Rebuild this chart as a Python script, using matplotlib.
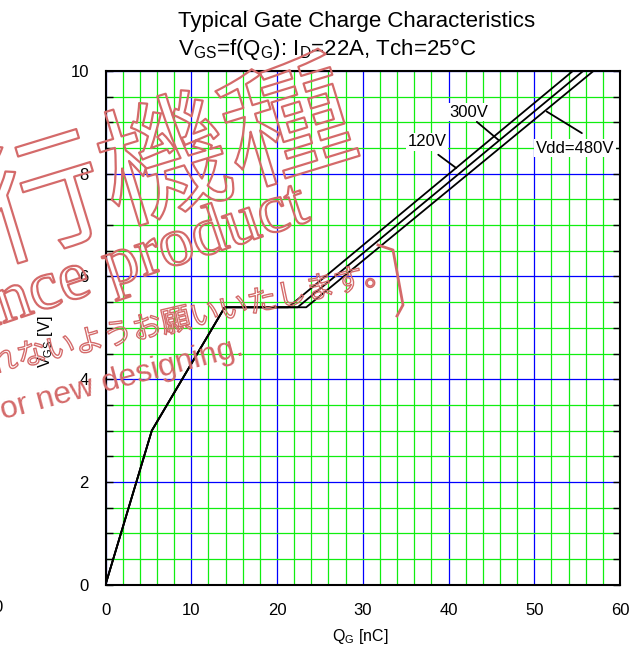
import matplotlib
matplotlib.use("Agg")
import matplotlib.pyplot as plt
import matplotlib.patheffects as pe
from matplotlib.lines import Line2D
import numpy as np

plt.rcParams['font.family'] = ['Liberation Sans', 'DejaVu Sans']

# gate charge curve
qg_rise = [0, 5.4, 13.9]          # nC
vgs_rise = [0, 3.0, 5.4]          # V
vdd_labels = ["120V", "300V", "Vdd=480V"]
qg_plateau_end = [21.3, 22.4, 23.4]
qg_at_top = [54.5, 55.7, 56.9]
v_plateau = 5.4
v_top = 10

x_ticks = [0, 10, 20, 30, 40, 50, 60]
y_ticks = [0, 2, 4, 6, 8, 10]

fig = plt.figure(figsize=(6.43, 6.53), dpi=100)
ax = fig.add_axes([0.1641, 0.1046, 0.8002, 0.7867])
ax.set_xlim(0, 60)
ax.set_ylim(0, 10)
ax.set_xticks(x_ticks)
ax.set_yticks(y_ticks)
ax.set_xticks(np.arange(0, 61, 2), minor=True)
ax.set_yticks(np.arange(0, 10.01, 0.5), minor=True)
ax.grid(which='minor', color='#10ee10', lw=0.9)
ax.grid(which='major', color='#0000ff', lw=0.9)
ax.set_axisbelow(True)
ax.tick_params(axis='x', which='both', length=0, pad=13, labelsize=12)
ax.tick_params(axis='y', which='both', direction='in', length=5, width=1,
               right=True, pad=12, labelsize=12)
for s in ax.spines.values():
    s.set_linewidth(1.5)

for i in range(3):
    q = qg_rise + [qg_plateau_end[i], qg_at_top[i]]
    v = vgs_rise + [v_plateau, v_top]
    ax.plot(q, v, color='black', lw=1.3)

# labels + leader lines
lead = dict(arrowstyle='-', lw=1.3, color='black', shrinkA=0, shrinkB=0)
box = dict(fc='white', ec='none', pad=1)
ax.annotate('', xy=(40.9, 8.11), xytext=(38.8, 8.37), arrowprops=lead)
ax.annotate('', xy=(45.8, 8.66), xytext=(43.3, 9.01), arrowprops=lead)
ax.annotate('', xy=(51.45, 9.21), xytext=(55.55, 8.79), arrowprops=lead)
ax.text(37.5, 8.62, vdd_labels[0], ha='center', va='center', fontsize=12, bbox=box)
ax.text(42.3, 9.20, vdd_labels[1], ha='center', va='center', fontsize=12, bbox=box)
ax.text(54.75, 8.50, vdd_labels[2], ha='center', va='center', fontsize=12, bbox=box)

ax.set_xlabel(r'Q$_{\mathregular{G}}$ [nC]', fontsize=11.5, va='center')
ax.set_ylabel(r'V$_{\mathregular{GS}}$ [V]', fontsize=11.5, va='center')
ax.xaxis.set_label_coords(0.4947, -0.0999)
ax.yaxis.set_label_coords(-0.1176, 0.472)

# title block
fig.text(178/643, 1-27/653, 'Typical Gate Charge Characteristics', fontsize=16,
         ha='left', va='baseline')
fig.text(178/643, 1-55/653,
         r'V$_{\mathregular{GS}}$=f(Q$_{\mathregular{G}}$): I$_{\mathregular{D}}$=22A, Tch=25°C',
         fontsize=16, ha='left', va='baseline')

# stray tick label from neighbouring chart
fig.text(-2/643, 1-608/653, '0', fontsize=12, ha='center', va='center')

# watermark
wm = '#d46a6a'
hollow = [pe.Stroke(linewidth=1.6, foreground=wm)]
fig.text(104/643, 1-188/653, '移行機種', fontsize=93, color='none',
         family=['Noto Sans CJK JP'], rotation=17, rotation_mode='anchor',
         ha='center', va='center', path_effects=hollow, zorder=10)
fig.text(312/643, 1-220/653, 'Maintenance product', fontsize=50, color='none',
         family=['Liberation Serif'], rotation=18.5, rotation_mode='anchor',
         ha='right', va='baseline', path_effects=hollow, zorder=10)
fig.text(395/643, 1-280/653, '新規設計には使用されないようお願いいたします。',
         fontsize=21.3, color='none', family=['Noto Sans CJK JP'], rotation=13,
         rotation_mode='anchor', ha='right', va='baseline',
         path_effects=[pe.Stroke(linewidth=1.0, foreground=wm)], zorder=10)
fig.text(245/643, 1-355/653, 'Not recommended for new designing.', fontsize=23,
         color=wm, rotation=15, rotation_mode='anchor', ha='right',
         va='baseline', zorder=10)
# closing bracket stroke of the stamp
fig.add_artist(Line2D(np.array([378, 393, 403, 397]) / 643,
                      1 - np.array([245, 250, 305, 316]) / 653,
                      color=wm, lw=2, zorder=10))

fig.savefig('out.png', dpi=100)
